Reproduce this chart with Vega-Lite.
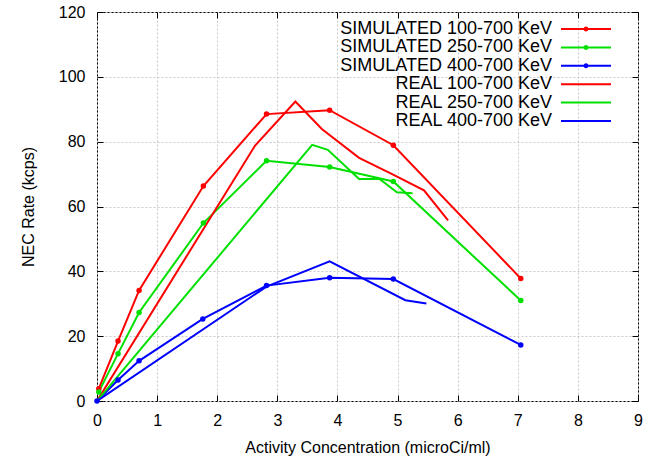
{
  "$schema": "https://vega.github.io/schema/vega-lite/v6.json",
  "width": 541,
  "height": 389,
  "autosize": {"type": "none"},
  "padding": {"left": 97, "top": 12, "right": 19, "bottom": 60},
  "background": "white",
  "config": {
    "view": {"stroke": "black", "strokeWidth": 1},
    "font": "Liberation Sans",
    "axis": {"labelFont": "Liberation Sans", "titleFont": "Liberation Sans", "labelFontSize": 16, "titleFontSize": 16, "labelColor": "black", "titleColor": "black", "titleFontWeight": "normal", "tickColor": "black", "domain": false, "labelFlush": false},
    "legend": {"symbolOpacity": 1}
  },
  "data": {"values": [
    {"series": "SIMULATED 100-700 KeV", "x": 0.03, "y": 3.8},
    {"series": "SIMULATED 100-700 KeV", "x": 0.35, "y": 18.5},
    {"series": "SIMULATED 100-700 KeV", "x": 0.70, "y": 34.1},
    {"series": "SIMULATED 100-700 KeV", "x": 1.77, "y": 66.3},
    {"series": "SIMULATED 100-700 KeV", "x": 2.82, "y": 88.5},
    {"series": "SIMULATED 100-700 KeV", "x": 3.87, "y": 89.7},
    {"series": "SIMULATED 100-700 KeV", "x": 4.93, "y": 78.9},
    {"series": "SIMULATED 100-700 KeV", "x": 7.05, "y": 37.8},
    {"series": "SIMULATED 250-700 KeV", "x": 0.03, "y": 2.8},
    {"series": "SIMULATED 250-700 KeV", "x": 0.35, "y": 14.6},
    {"series": "SIMULATED 250-700 KeV", "x": 0.70, "y": 27.3},
    {"series": "SIMULATED 250-700 KeV", "x": 1.77, "y": 54.9},
    {"series": "SIMULATED 250-700 KeV", "x": 2.82, "y": 74.1},
    {"series": "SIMULATED 250-700 KeV", "x": 3.87, "y": 72.2},
    {"series": "SIMULATED 250-700 KeV", "x": 4.93, "y": 67.7},
    {"series": "SIMULATED 250-700 KeV", "x": 7.05, "y": 31.0},
    {"series": "SIMULATED 400-700 KeV", "x": 0.0, "y": 0.0},
    {"series": "SIMULATED 400-700 KeV", "x": 0.35, "y": 6.5},
    {"series": "SIMULATED 400-700 KeV", "x": 0.70, "y": 12.4},
    {"series": "SIMULATED 400-700 KeV", "x": 1.76, "y": 25.3},
    {"series": "SIMULATED 400-700 KeV", "x": 2.82, "y": 35.6},
    {"series": "SIMULATED 400-700 KeV", "x": 3.87, "y": 38.0},
    {"series": "SIMULATED 400-700 KeV", "x": 4.93, "y": 37.6},
    {"series": "SIMULATED 400-700 KeV", "x": 7.05, "y": 17.3},
    {"series": "REAL 100-700 KeV", "x": 0.0, "y": 0.0},
    {"series": "REAL 100-700 KeV", "x": 2.63, "y": 78.8},
    {"series": "REAL 100-700 KeV", "x": 3.30, "y": 92.4},
    {"series": "REAL 100-700 KeV", "x": 3.74, "y": 83.9},
    {"series": "REAL 100-700 KeV", "x": 4.36, "y": 75.0},
    {"series": "REAL 100-700 KeV", "x": 4.91, "y": 70.0},
    {"series": "REAL 100-700 KeV", "x": 5.44, "y": 65.0},
    {"series": "REAL 100-700 KeV", "x": 5.84, "y": 55.7},
    {"series": "REAL 250-700 KeV", "x": 0.0, "y": 0.0},
    {"series": "REAL 250-700 KeV", "x": 3.58, "y": 79.0},
    {"series": "REAL 250-700 KeV", "x": 3.84, "y": 77.5},
    {"series": "REAL 250-700 KeV", "x": 4.36, "y": 68.5},
    {"series": "REAL 250-700 KeV", "x": 4.70, "y": 68.5},
    {"series": "REAL 250-700 KeV", "x": 4.99, "y": 64.4},
    {"series": "REAL 250-700 KeV", "x": 5.25, "y": 64.1},
    {"series": "REAL 400-700 KeV", "x": 0.0, "y": 0.0},
    {"series": "REAL 400-700 KeV", "x": 2.82, "y": 35.3},
    {"series": "REAL 400-700 KeV", "x": 3.87, "y": 43.1},
    {"series": "REAL 400-700 KeV", "x": 5.13, "y": 31.1},
    {"series": "REAL 400-700 KeV", "x": 5.48, "y": 30.1}
  ]},
  "layer": [
    {
      "mark": {"type": "point", "filled": false, "opacity": 0.001, "strokeWidth": 2},
      "encoding": {
        "x": {"field": "x", "type": "quantitative", "scale": {"domain": [0, 9], "nice": false, "zero": false}, "axis": null},
        "y": {"field": "y", "type": "quantitative", "scale": {"domain": [0, 120], "nice": false}, "axis": null},
        "color": {"field": "series", "type": "nominal", "title": null,
                  "scale": {"domain": ["SIMULATED 100-700 KeV", "SIMULATED 250-700 KeV", "SIMULATED 400-700 KeV", "REAL 100-700 KeV", "REAL 250-700 KeV", "REAL 400-700 KeV"],
                            "range": ["#ff0000", "#00e000", "#0000ff", "#ff0000", "#00e000", "#0000ff"]},
                  "legend": {"orient": "none", "legendX": 480, "legendY": 8, "padding": 0, "title": null, "symbolOpacity": 1, "symbolStrokeWidth": 2, "symbolSize": 100, "labelFontSize": 18, "labelFont": "Liberation Sans", "labelColor": "black", "labelAlign": "right", "labelOffset": -43, "rowPadding": 0.4, "labelLimit": 400}},
        "shape": {"field": "series", "type": "nominal", "title": null,
                  "scale": {"domain": ["SIMULATED 100-700 KeV", "SIMULATED 250-700 KeV", "SIMULATED 400-700 KeV", "REAL 100-700 KeV", "REAL 250-700 KeV", "REAL 400-700 KeV"],
                            "range": ["M-5,0L5,0M-0.3,0A0.3,0.3,0,1,1,0.3,0A0.3,0.3,0,1,1,-0.3,0Z", "M-5,0L5,0M-0.3,0A0.3,0.3,0,1,1,0.3,0A0.3,0.3,0,1,1,-0.3,0Z", "M-5,0L5,0M-0.3,0A0.3,0.3,0,1,1,0.3,0A0.3,0.3,0,1,1,-0.3,0Z", "M-5,0L5,0", "M-5,0L5,0", "M-5,0L5,0"]},
                  "legend": {"orient": "none", "legendX": 480, "legendY": 8, "padding": 0, "title": null, "symbolOpacity": 1, "symbolStrokeWidth": 2, "symbolSize": 100, "labelFontSize": 18, "labelFont": "Liberation Sans", "labelColor": "black", "labelAlign": "right", "labelOffset": -43, "rowPadding": 0.4, "labelLimit": 400}}
      }
    },
    {
      "mark": {"type": "line", "strokeWidth": 2, "clip": true},
      "encoding": {
        "x": {"field": "x", "type": "quantitative",
              "axis": {"orient": "bottom", "title": "Activity Concentration (microCi/ml)", "values": [0,1,2,3,4,5,6,7,8,9], "format": "d", "tickSize": -6, "labelPadding": 17, "titlePadding": 11, "grid": true, "gridDash": [2, 2], "gridColor": "#c8c8c8"}},
        "y": {"field": "y", "type": "quantitative",
              "axis": {"orient": "left", "title": "NEC Rate (kcps)", "values": [0,20,40,60,80,100,120], "tickSize": -6, "labelPadding": 18, "titlePadding": 22, "grid": true, "gridDash": [2, 2], "gridColor": "#c8c8c8"}},
        "color": {"field": "series", "type": "nominal", "legend": null},
        "detail": {"field": "series"}
      }
    },
    {
      "transform": [{"filter": "indexof(datum.series, 'SIMULATED') === 0"}],
      "mark": {"type": "point", "filled": true, "size": 30, "opacity": 1},
      "encoding": {
        "x": {"field": "x", "type": "quantitative", "axis": {"orient": "top", "title": null, "labels": false, "values": [0,1,2,3,4,5,6,7,8,9], "tickSize": -6, "grid": false}},
        "y": {"field": "y", "type": "quantitative", "axis": {"orient": "right", "title": null, "labels": false, "values": [0,20,40,60,80,100,120], "tickSize": -6, "grid": false}},
        "color": {"field": "series", "type": "nominal", "legend": null}
      }
    }
  ],
  "resolve": {"axis": {"x": "independent", "y": "independent"}}
}
